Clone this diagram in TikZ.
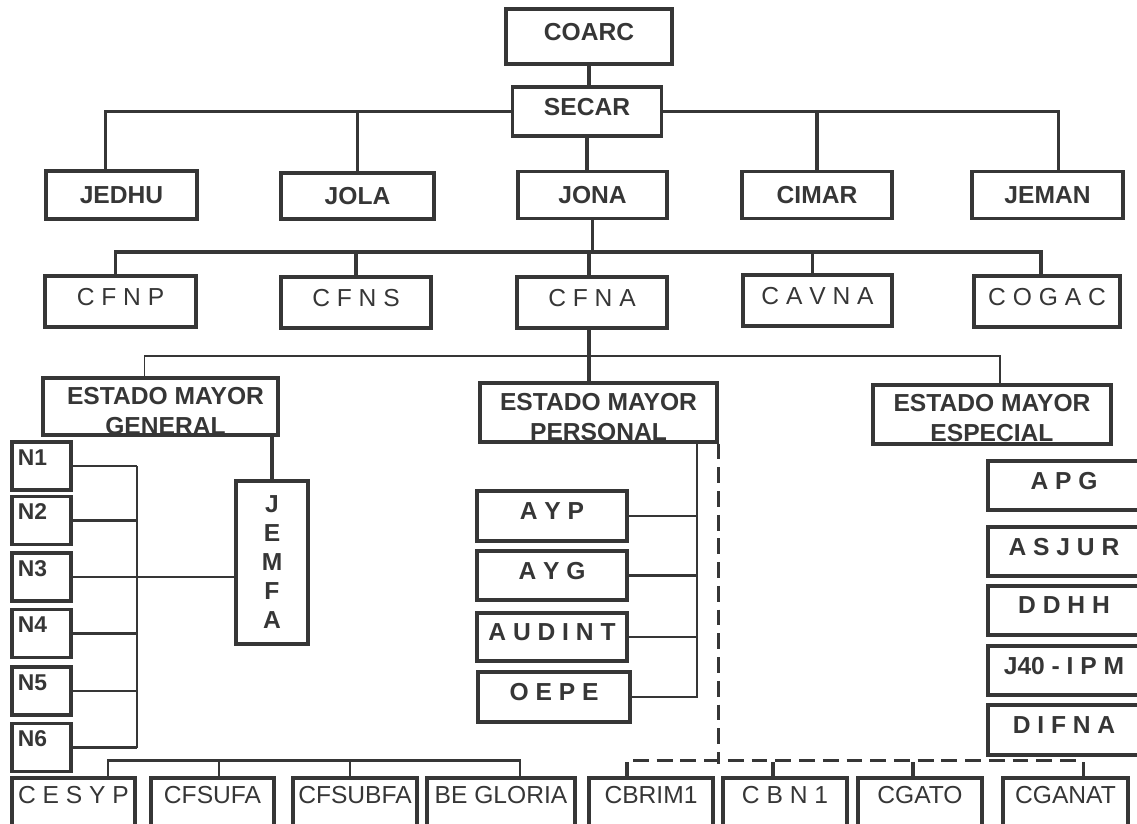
\documentclass[tikz,border=0pt]{standalone}
\usepackage{fontspec}
\setmainfont{Liberation Sans}
\definecolor{orgInk}{HTML}{363636}
\usetikzlibrary{positioning,calc}
\tikzset{sz/.style 2 args={minimum width=#1*0.2mm,minimum height=#2*0.2mm}}

\begin{document}
\begin{tikzpicture}[
  x=0.2mm,y=-0.2mm,
  box/.style={draw=orgInk,line width=1.8pt,text=orgInk,inner sep=0pt,
              text depth=2mm,font=\fontsize{14}{16}\selectfont\bfseries},
  toprow/.style={box,text depth=0pt},
  thinbox/.style={box,font=\fontsize{14}{16}\selectfont},
  emtxt/.style={text=orgInk,inner sep=0pt,align=center,
                font=\fontsize{14}{17}\selectfont\bfseries},
  nbox/.style={draw=orgInk,line width=1.8pt,text=orgInk,
               font=\fontsize{13}{15}\selectfont\bfseries,
               inner xsep=1.2mm,inner ysep=0pt,text width=9.4mm,align=left,
               text height=4.6mm,text depth=5mm},
  bbox/.style={draw=orgInk,line width=1.8pt,text=orgInk,
               font=\fontsize{14}{16}\selectfont,
               inner sep=0pt,text height=5mm,text depth=7.4mm},
  link/.style={draw=orgInk,line width=1.8pt},
  mid/.style={draw=orgInk,line width=1.4pt},
  thinlink/.style={draw=orgInk,line width=1pt},
  dashline/.style={draw=orgInk,line width=1.7pt,dash pattern=on 9pt off 4.5pt}
]
\useasboundingbox (0,0) rectangle (1137,823);
% top
\node[box,sz={166}{55}] (coarc) at (589,36.5) {COARC};
\node[box,sz={149}{49}] (secar) at (587,111.5) {SECAR};
\node[toprow,sz={151}{48}] (jedhu) at (121.5,195) {JEDHU};
\node[toprow,sz={153}{46}] (jola) at (357.5,196) {JOLA};
\node[toprow,sz={149}{47}] (jona) at (592.5,195) {JONA};
\node[toprow,sz={150}{47}] (cimar) at (817,195) {CIMAR};
\node[toprow,sz={151}{47}] (jeman) at (1047.5,195) {JEMAN};
\draw[link] (coarc.south) -- (coarc.south |- secar.north);
\draw[link] (secar.west) -| ([xshift=-3.2mm]jedhu.north);
\draw[link] (secar.west) -| (jola.north);
\draw[link] (secar.east) -| (cimar.north);
\draw[link] (secar.east) -| ([xshift=2.2mm]jeman.north);
\draw[link] (secar.south) -- (secar.south |- jona.north);
% second row
\node[thinbox,sz={151}{51}] (cfnp) at (120.5,301.5) {C F N P};
\node[thinbox,sz={150}{51}] (cfns) at (356,302.5) {C F N S};
\node[thinbox,sz={150}{51}] (cfna) at (592,302.5) {C F N A};
\node[thinbox,sz={149}{51}] (cavna) at (817.5,300.5) {C A V N A};
\node[thinbox,sz={146}{51}] (cogac) at (1047,301.5) {C O G A C};
\coordinate (jbus) at (590,252);
\draw[link] (jona.south) -- (jona.south |- jbus);
\draw[link] ([xshift=-1mm]cfnp.north) |- (jbus) -| ([xshift=-1.2mm]cogac.north);
\draw[link] (cfns.north) -- (cfns.north |- jbus);
\draw[link] ([xshift=-0.6mm]cfna.north) -- ([xshift=-0.6mm]cfna.north |- jbus);
\draw[link] ([xshift=-1mm]cavna.north) -- ([xshift=-1mm]cavna.north |- jbus);
% estado mayor
\node[box,sz={235}{57}] (emg) at (160.5,406.5) {};
\node[box,sz={237}{59}] (emp) at (598.5,412.5) {};
\node[box,sz={238}{59}] (eme) at (992,414.5) {};
\node[emtxt,anchor=north] (emgT) at ([xshift=1mm,yshift=-2.1mm]emg.north) {ESTADO MAYOR\\GENERAL};
\node[emtxt,anchor=north] (empT) at ([yshift=-2.3mm]emp.north) {ESTADO MAYOR\\PERSONAL};
\node[emtxt,anchor=north] (emeT) at ([yshift=-2.1mm]eme.north) {ESTADO MAYOR\\ESPECIAL};
\coordinate (fbus) at (590,356);
\draw[thinlink] ([xshift=-3.2mm]emg.north) |- (fbus) -| ([xshift=1.6mm]eme.north);
\draw[link] ([xshift=-0.6mm]cfna.south) -- ([xshift=-0.6mm]cfna.south |- emp.north);
% general staff
\node[box,sz={72}{163},align=center,text depth=0pt,
      font=\fontsize{14}{16.5}\selectfont\bfseries] (jemfa) at (272,562.5) {J\\E\\M\\F\\A};
\foreach \i/\y in {1/466,2/520.5,3/577,4/633.5,5/691,6/747.5}
  \node[nbox] (n\i) at (41.5,\y) {N\i};
\coordinate (nbus) at (137,462);
\foreach \i in {1,...,6}
  \draw[mid] (n\i.east) -- (n\i.east -| nbus);
\draw[mid] (n1.east -| nbus) -- (n6.east -| nbus);
\draw[mid] (n3.east) -- (n3.east -| jemfa.west);
\draw[link] (jemfa.north) -- (jemfa.north |- emg.south);
% personal staff
\node[box,sz={150}{50}] (ayp) at (552,516) {A Y P};
\node[box,sz={150}{49}] (ayg) at (552,575.5) {A Y G};
\node[box,sz={150}{48}] (audint) at (552,637) {A U D I N T};
\node[box,sz={152}{50}] (oepe) at (554,697) {O E P E};
\coordinate (pbus) at (697,442);
\draw[mid] (pbus) |- (oepe.east);
\foreach \n in {ayp,ayg,audint}
  \draw[mid] (\n.east) -- (\n.east -| pbus);
% special staff
\node[box,sz={152}{49}] (apg) at (1064,485.5) {A P G};
\node[box,sz={152}{49}] (asjur) at (1064,551.5) {A S J U R};
\node[box,sz={152}{49}] (ddhh) at (1064,610.5) {D D H H};
\node[box,sz={152}{49}] (jcuar) at (1064,670.5) {J40 - I P M};
\node[box,sz={152}{50}] (difna) at (1064,730) {D I F N A};
% bottom row
\node[bbox,sz={123}{62}] (cesyp) at (73.5,809) {C E S Y P};
\node[bbox,sz={123}{62}] (cfsufa) at (212.5,809) {CFSUFA};
\node[bbox,sz={124}{62}] (cfsubfa) at (355,809) {CFSUBFA};
\node[bbox,sz={148}{62}] (begloria) at (501,809) {BE GLORIA};
\node[bbox,sz={124}{62}] (cbrim1) at (651,809) {CBRIM1};
\node[bbox,sz={124}{62}] (cbn1) at (785,809) {C B N 1};
\node[bbox,sz={124}{62}] (cgato) at (920,809) {CGATO};
\node[bbox,sz={125}{62}] (cganat) at (1065.5,809) {CGANAT};
\draw[mid] ([xshift=6.9mm]cesyp.north) -- ++(0,-16) -| ([xshift=3.8mm]begloria.north);
\draw[mid] ([xshift=1.3mm]cfsufa.north) -- ++(0,-16);
\draw[mid] ([xshift=-1mm]cfsubfa.north) -- ++(0,-16);
% dashed line
\draw[dashline] (emp.south east) -- ++(0,320);
\draw[dashline] ([xshift=-3.6mm,yshift=3.2mm]cbrim1.north) -- ([xshift=3.6mm,yshift=3.2mm]cganat.north);
\foreach \n/\s in {cbrim1/-4.8,cbn1/-2.4,cgato/-1.4,cganat/3.6}
  \draw[link] ([xshift=\s mm]\n.north) -- ++(0,-14);
\end{tikzpicture}
\end{document}
